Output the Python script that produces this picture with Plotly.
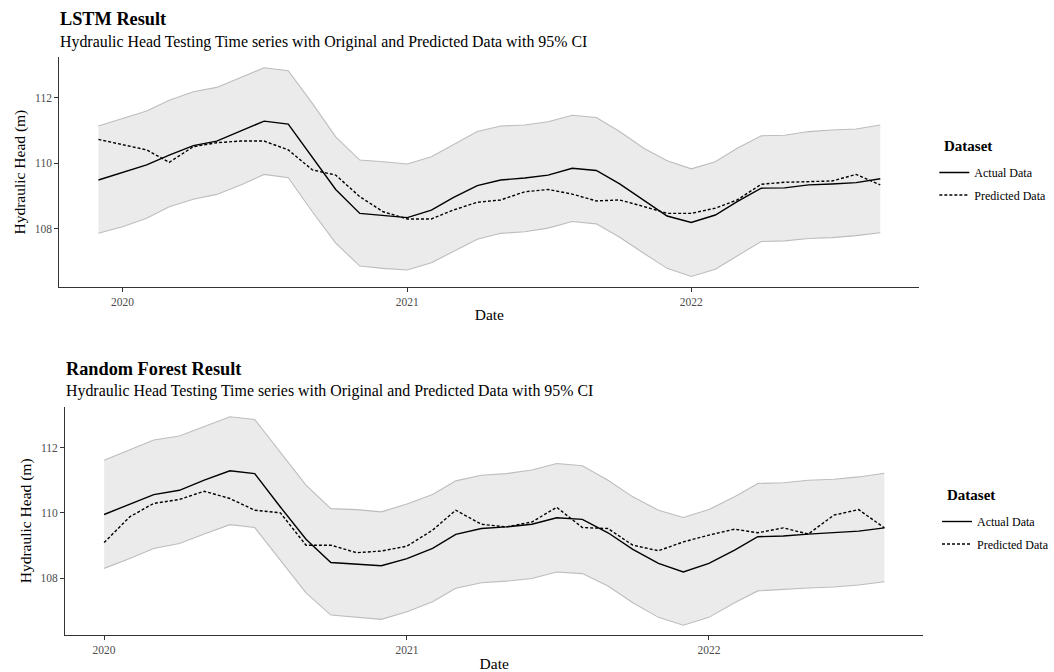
import pandas as pd
import plotly.graph_objects as go

# ---------------- data ----------------
dates_lstm = pd.date_range("2019-12-01", periods=34, freq="MS")
dates_rf = pd.date_range("2020-01-01", periods=32, freq="MS")

actual_lstm = [109.49, 109.72, 109.95, 110.25, 110.54, 110.68, 110.99, 111.29, 111.20, 110.20,
               109.20, 108.47, 108.40, 108.34, 108.57, 108.95, 109.32, 109.49, 109.55, 109.64,
               109.85, 109.78, 109.37, 108.88, 108.39, 108.19, 108.42, 108.83, 109.24, 109.25,
               109.34, 109.37, 109.41, 109.53]
pred_lstm = [110.73, 110.57, 110.41, 110.03, 110.51, 110.63, 110.68, 110.68, 110.41, 109.80,
             109.64, 108.98, 108.52, 108.30, 108.30, 108.57, 108.81, 108.88, 109.13, 109.20,
             109.06, 108.85, 108.88, 108.68, 108.47, 108.47, 108.63, 108.88, 109.36, 109.42,
             109.45, 109.46, 109.66, 109.34]
upper_lstm = [111.14, 111.37, 111.60, 111.93, 112.19, 112.32, 112.63, 112.92, 112.83, 111.83,
              110.81, 110.10, 110.05, 109.98, 110.20, 110.56, 110.97, 111.14, 111.17, 111.27,
              111.47, 111.40, 110.97, 110.46, 110.08, 109.83, 110.05, 110.46, 110.84, 110.86,
              110.97, 111.02, 111.05, 111.17]
lower_lstm = [107.86, 108.06, 108.32, 108.67, 108.90, 109.05, 109.34, 109.66, 109.56, 108.52,
              107.56, 106.86, 106.79, 106.74, 106.96, 107.30, 107.68, 107.86, 107.91, 108.02,
              108.22, 108.15, 107.74, 107.25, 106.79, 106.54, 106.76, 107.17, 107.61, 107.63,
              107.70, 107.73, 107.79, 107.88]

actual_rf = [109.95, 110.26, 110.56, 110.69, 111.00, 111.29, 111.20, 110.18, 109.19, 108.48,
             108.43, 108.38, 108.60, 108.91, 109.34, 109.52, 109.57, 109.65, 109.85, 109.80,
             109.39, 108.88, 108.45, 108.19, 108.45, 108.86, 109.27, 109.29, 109.35, 109.39,
             109.44, 109.54]
pred_rf = [109.09, 109.88, 110.29, 110.41, 110.66, 110.44, 110.08, 110.00, 109.01, 109.01,
           108.78, 108.83, 108.98, 109.47, 110.08, 109.65, 109.57, 109.72, 110.17, 109.55,
           109.52, 109.01, 108.84, 109.11, 109.32, 109.50, 109.39, 109.54, 109.35, 109.93,
           110.10, 109.54]
upper_rf = [111.61, 111.92, 112.23, 112.35, 112.65, 112.94, 112.86, 111.87, 110.85, 110.13,
            110.10, 110.03, 110.27, 110.56, 110.98, 111.15, 111.20, 111.31, 111.51, 111.44,
            111.00, 110.49, 110.08, 109.86, 110.10, 110.49, 110.90, 110.92, 111.00, 111.03,
            111.10, 111.21]
lower_rf = [108.30, 108.60, 108.91, 109.06, 109.35, 109.64, 109.55, 108.55, 107.55, 106.87,
            106.80, 106.74, 106.97, 107.28, 107.69, 107.86, 107.91, 107.99, 108.19, 108.14,
            107.76, 107.25, 106.80, 106.56, 106.80, 107.25, 107.61, 107.66, 107.70, 107.73,
            107.79, 107.89]

year_ticks = ["2020-01-01", "2021-01-01", "2022-01-01"]
year_labels = ["2020", "2021", "2022"]
y_ticks = [108, 110, 112]

titles = ["LSTM Result", "Random Forest Result"]
subtitle = "Hydraulic Head Testing Time series with Original and Predicted Data with 95% CI"
legend_title = "Dataset"

# ---------------- layout helpers ----------------
W, H = 1054, 672
FONT = "Liberation Serif, Times New Roman, serif"


def px_x(p):
    return p / W


def px_y(p):
    return 1 - p / H


def expand(dates, frac=0.05):
    span = dates[-1] - dates[0]
    return [dates[0] - span * frac, dates[-1] + span * frac]


fig = go.Figure()

panels = [
    dict(dates=dates_lstm, actual=actual_lstm, pred=pred_lstm, up=upper_lstm, lo=lower_lstm,
         xa="x", ya="y", legend="legend"),
    dict(dates=dates_rf, actual=actual_rf, pred=pred_rf, up=upper_rf, lo=lower_rf,
         xa="x2", ya="y2", legend="legend2"),
]

for p in panels:
    fig.add_trace(go.Scatter(x=p["dates"], y=p["lo"], mode="lines",
                             line=dict(color="#bdbdbd", width=1.1),
                             showlegend=False, hoverinfo="skip",
                             xaxis=p["xa"], yaxis=p["ya"]))
    fig.add_trace(go.Scatter(x=p["dates"], y=p["up"], mode="lines",
                             line=dict(color="#bdbdbd", width=1.1),
                             fill="tonexty", fillcolor="#ebebeb",
                             showlegend=False, hoverinfo="skip",
                             xaxis=p["xa"], yaxis=p["ya"]))
    fig.add_trace(go.Scatter(x=p["dates"], y=p["actual"], mode="lines", name="Actual Data",
                             line=dict(color="black", width=1.4),
                             legend=p["legend"], legendgroup="a" + p["legend"],
                             xaxis=p["xa"], yaxis=p["ya"]))
    fig.add_trace(go.Scatter(x=p["dates"], y=p["pred"], mode="lines", name="Predicted Data",
                             line=dict(color="black", width=1.4, dash="3px,2px"),
                             legend=p["legend"], legendgroup="p" + p["legend"],
                             xaxis=p["xa"], yaxis=p["ya"]))

axis_common = dict(showline=True, linecolor="#333333", linewidth=1.2, mirror=False,
                   showgrid=False, zeroline=False, ticks="outside", ticklen=4,
                   tickcolor="#333333", tickwidth=1,
                   tickfont=dict(family=FONT, size=11.5, color="#4d4d4d"))

legend_common = dict(xanchor="left", yanchor="top",
                     font=dict(size=12), tracegroupgap=3.5, itemwidth=30,
                     bgcolor="rgba(0,0,0,0)")

fig.update_layout(
    width=W, height=H,
    margin=dict(l=0, r=0, t=0, b=0),
    paper_bgcolor="white", plot_bgcolor="white",
    font=dict(family=FONT, color="black"),
    xaxis=dict(domain=[px_x(59.5), px_x(922)], anchor="y", type="date",
               range=expand(dates_lstm), tickvals=year_ticks, ticktext=year_labels,
               title=dict(text="Date", font=dict(size=15.5), standoff=2), **axis_common),
    yaxis=dict(domain=[px_y(287), px_y(57.3)], anchor="x", range=[106.22, 113.24],
               tickvals=y_ticks,
               title=dict(text="Hydraulic Head (m)", font=dict(size=15.5), standoff=5),
               **axis_common),
    xaxis2=dict(domain=[px_x(65.3), px_x(926)], anchor="y2", type="date",
                range=expand(dates_rf), tickvals=year_ticks, ticktext=year_labels,
                title=dict(text="Date", font=dict(size=15.5), standoff=3), **axis_common),
    yaxis2=dict(domain=[px_y(635), px_y(406.7)], anchor="x2", range=[106.26, 113.25],
                tickvals=y_ticks,
                title=dict(text="Hydraulic Head (m)", font=dict(size=15.5), standoff=5),
                **axis_common),
    legend=dict(x=px_x(937), y=px_y(158), **legend_common),
    legend2=dict(x=px_x(940), y=px_y(507), **legend_common),
)

for x, y in [(945, 146), (948, 495)]:
    fig.add_annotation(text="<b>%s</b>" % legend_title, x=px_x(x), y=px_y(y), xref="paper",
                       yref="paper", xanchor="left", yanchor="middle", showarrow=False,
                       font=dict(size=15, family=FONT))

fig.add_annotation(text="<b>%s</b>" % titles[0], x=px_x(58), y=px_y(19.5), xref="paper",
                   yref="paper", xanchor="left", yanchor="middle", showarrow=False,
                   font=dict(size=18.3, family=FONT))
fig.add_annotation(text=subtitle, x=px_x(58), y=px_y(42), xref="paper", yref="paper",
                   xanchor="left", yanchor="middle", showarrow=False,
                   font=dict(size=15.9, family=FONT))
fig.add_annotation(text="<b>%s</b>" % titles[1], x=px_x(64), y=px_y(368.5), xref="paper",
                   yref="paper", xanchor="left", yanchor="middle", showarrow=False,
                   font=dict(size=18.3, family=FONT))
fig.add_annotation(text=subtitle, x=px_x(64), y=px_y(391), xref="paper", yref="paper",
                   xanchor="left", yanchor="middle", showarrow=False,
                   font=dict(size=15.9, family=FONT))

fig.write_html("out.html", config={"displayModeBar": False},
               post_script="document.body.style.margin='0';")
